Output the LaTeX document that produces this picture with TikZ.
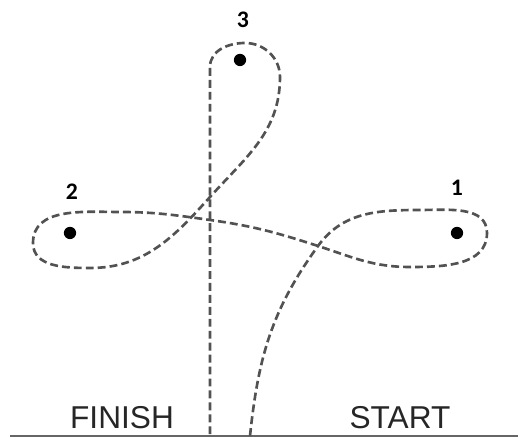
\documentclass[tikz,border=0pt]{standalone}
\usepackage{fontspec}
\setmainfont{Liberation Sans}
\newfontfamily\numfont{Carlito}
\usetikzlibrary{calc}

\tikzset{
	route/.style={draw=black!68, line width=1.5pt, dash pattern=on 4.5pt off 2.3pt},
	spot/.style={circle, fill=black, inner sep=0pt, minimum size=7pt},
	num/.style={font=\numfont\bfseries\fontsize{13.5}{14}\selectfont},
	word/.style={font=\fontsize{18}{20}\selectfont, text=black!85}
}

\begin{document}
\begin{tikzpicture}[x=0.02cm, y=0.02cm]
		\useasboundingbox (0,0) rectangle (518,438);
		
		\coordinate (s) at (250,2);
		\coordinate (c) at (318,192);
		\coordinate (a1) at (420,228);
		\coordinate (b1) at (487,205);
		\coordinate (d1) at (410,171);
		\coordinate (m) at (210,218);
		\coordinate (a2) at (120,226);
		\coordinate (b2) at (33,195);
		\coordinate (d2) at (90,170);
		\coordinate (v) at (210,241);
		\coordinate (b3) at (280,361);
		\coordinate (a3) at (245,395);
		\coordinate (d3) at (210,371);
		\coordinate (f) at (210,2);
		
		\draw[black!60, line width=1.3pt] (10,2) -- (518,2);
		
		\draw[route] (s) to[out=84, in=234] (c)
			to[out=54, in=180] (a1)
			to[out=0, in=90] (b1)
			to[out=270, in=0] (d1)
			to[out=180, in=-18] (c)
			to[out=162, in=-8] (m)
			to[out=172, in=0] (a2)
			to[out=180, in=90] (b2)
			to[out=270, in=180] (d2)
			to[out=0, in=228] (v)
			to[out=48, in=270] (b3)
			to[out=90, in=0] (a3)
			to[out=180, in=90] (d3)
			-- (f);
		
		\node[spot] (p1) at (457,205) {};
		\node[spot] (p2) at (70,205) {};
		\node[spot] (p3) at (240,378) {};
		
		\node[num] (n1) at (457,250) {1};
		\node[num] (n2) at (72,246) {2};
		\node[num] (n3) at (243,418) {3};
		
		\node[word] (fin) at (122,20) {FINISH};
		\node[word] (sta) at (400,20) {START};
\end{tikzpicture}
\end{document}
